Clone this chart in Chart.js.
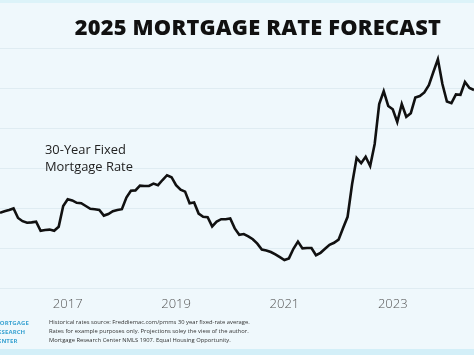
<!DOCTYPE html>
<html>
<head>
<meta charset="utf-8">
<script src="https://cdn.jsdelivr.net/npm/chart.js@4.4.1/dist/chart.umd.min.js"></script>
<style>
  html, body { margin: 0; padding: 0; }
  body { width: 474px; height: 355px; overflow: hidden; background: #eff8fc; position: relative; font-family: "Open Sans", "DejaVu Sans", sans-serif; }
  #wrap { position: absolute; left: 0; top: 0; width: 474px; height: 355px; }
  .title { position: absolute; left: 0; width: 516px; top: 12px; text-align: center; font-weight: 800; font-size: 21.8px; color: #111; letter-spacing: 0.2px; white-space: nowrap; }
  .note { position: absolute; left: 45px; top: 141px; font-size: 12.9px; line-height: 17px; color: #222; }
  .foot { position: absolute; left: 49px; top: 318px; font-size: 5.8px; line-height: 9px; color: #333; white-space: nowrap; }
  .logo { position: absolute; left: -6px; top: 319px; font-size: 6px; line-height: 9px; color: #3aa3d2; font-weight: 700; letter-spacing: 0.1px; }
  .topband { position: absolute; left: 0; top: 0; width: 474px; height: 3px; background: #dcf3f9; }
  .botband { position: absolute; left: 0; top: 349px; width: 474px; height: 6px; background: #d3eff8; }
</style>
</head>
<body>
<div class="topband"></div>
<div class="botband"></div>
<div id="wrap"><canvas id="c" width="474" height="355"></canvas></div>
<div class="title">2025 MORTGAGE RATE FORECAST</div>
<div class="note">30-Year Fixed<br>Mortgage Rate</div>
<div class="logo">MORTGAGE<br>RESEARCH<br>CENTER</div>
<div class="foot">Historical rates source: Freddiemac.com/pmms 30 year fixed-rate average.<br>Rates for example purposes only. Projections soley the view of the author.<br>Mortgage Research Center NMLS 1907. Equal Housing Opportunity.</div>
<script>
// Monthly labels, Oct 2015 .. Jul 2024
const months = [];
(function () {
  let y = 2015, m = 10;
  for (let i = 0; i < 106; i++) {
    months.push(y + '-' + String(m).padStart(2, '0'));
    m++; if (m > 12) { m = 1; y++; }
  }
})();

// 30-year fixed mortgage rate (%)
const rates = [
  3.88, 3.92, 3.95, 3.99, 3.75, 3.67, 3.63, 3.64, 3.66, 3.43,
  3.45, 3.46, 3.43, 3.53, 4.05, 4.22, 4.19, 4.13, 4.12, 4.05,
  3.98, 3.97, 3.95, 3.81, 3.85, 3.92, 3.95, 3.97, 4.26, 4.43,
  4.44, 4.56, 4.55, 4.55, 4.61, 4.57, 4.70, 4.82, 4.77, 4.57,
  4.46, 4.41, 4.12, 4.14, 3.86, 3.78, 3.77, 3.54, 3.66, 3.72,
  3.72, 3.74, 3.49, 3.33, 3.35, 3.29, 3.22, 3.11, 2.96, 2.94,
  2.90, 2.84, 2.77, 2.70, 2.74, 2.98, 3.16, 2.99, 3.00, 3.00,
  2.82, 2.88, 2.98, 3.08, 3.13, 3.21, 3.50, 3.78, 4.60, 5.25,
  5.12, 5.28, 5.05, 5.60, 6.60, 6.92, 6.55, 6.47, 6.15, 6.60,
  6.28, 6.37, 6.76, 6.80, 6.89, 7.07, 7.40, 7.72, 7.10, 6.66,
  6.62, 6.84, 6.83, 7.15, 7.00, 6.95
];

// Years shown on the x axis (placed at January of each)
const yearTicks = ['2017', '2019', '2021', '2023'];

const yMin = 2, yMax = 8;

new Chart(document.getElementById('c'), {
  type: 'line',
  data: {
    labels: months,
    datasets: [{
      data: rates,
      borderColor: '#111111',
      borderWidth: 2.6,
      pointRadius: 0,
      tension: 0,
      fill: false
    }]
  },
  options: {
    responsive: false,
    animation: false,
    maintainAspectRatio: false,
    layout: { padding: { top: 48, bottom: 43, left: 0, right: 0 } },
    plugins: { legend: { display: false }, tooltip: { enabled: false }, title: { display: false } },
    scales: {
      x: {
        type: 'category',
        offset: false,
        grid: { display: false, drawTicks: false },
        border: { display: false },
        afterFit: (s) => { s.height = 24; },
        ticks: {
          autoSkip: false,
          maxRotation: 0,
          minRotation: 0,
          padding: 8,
          color: '#555',
          font: { family: '"Open Sans", sans-serif', size: 13, weight: '300' },
          callback: function (value) {
            const lab = this.getLabelForValue(value);
            const [yy, mm] = lab.split('-');
            return (mm === '01' && yearTicks.includes(yy)) ? yy : null;
          }
        }
      },
      y: {
        display: true,
        min: yMin,
        max: yMax,
        afterFit: (s) => { s.width = 0; },
        ticks: { display: false, stepSize: 1 },
        border: { display: false },
        grid: { color: '#dfecf2', lineWidth: 1, drawTicks: false }
      }
    }
  }
});
</script>
</body>
</html>
